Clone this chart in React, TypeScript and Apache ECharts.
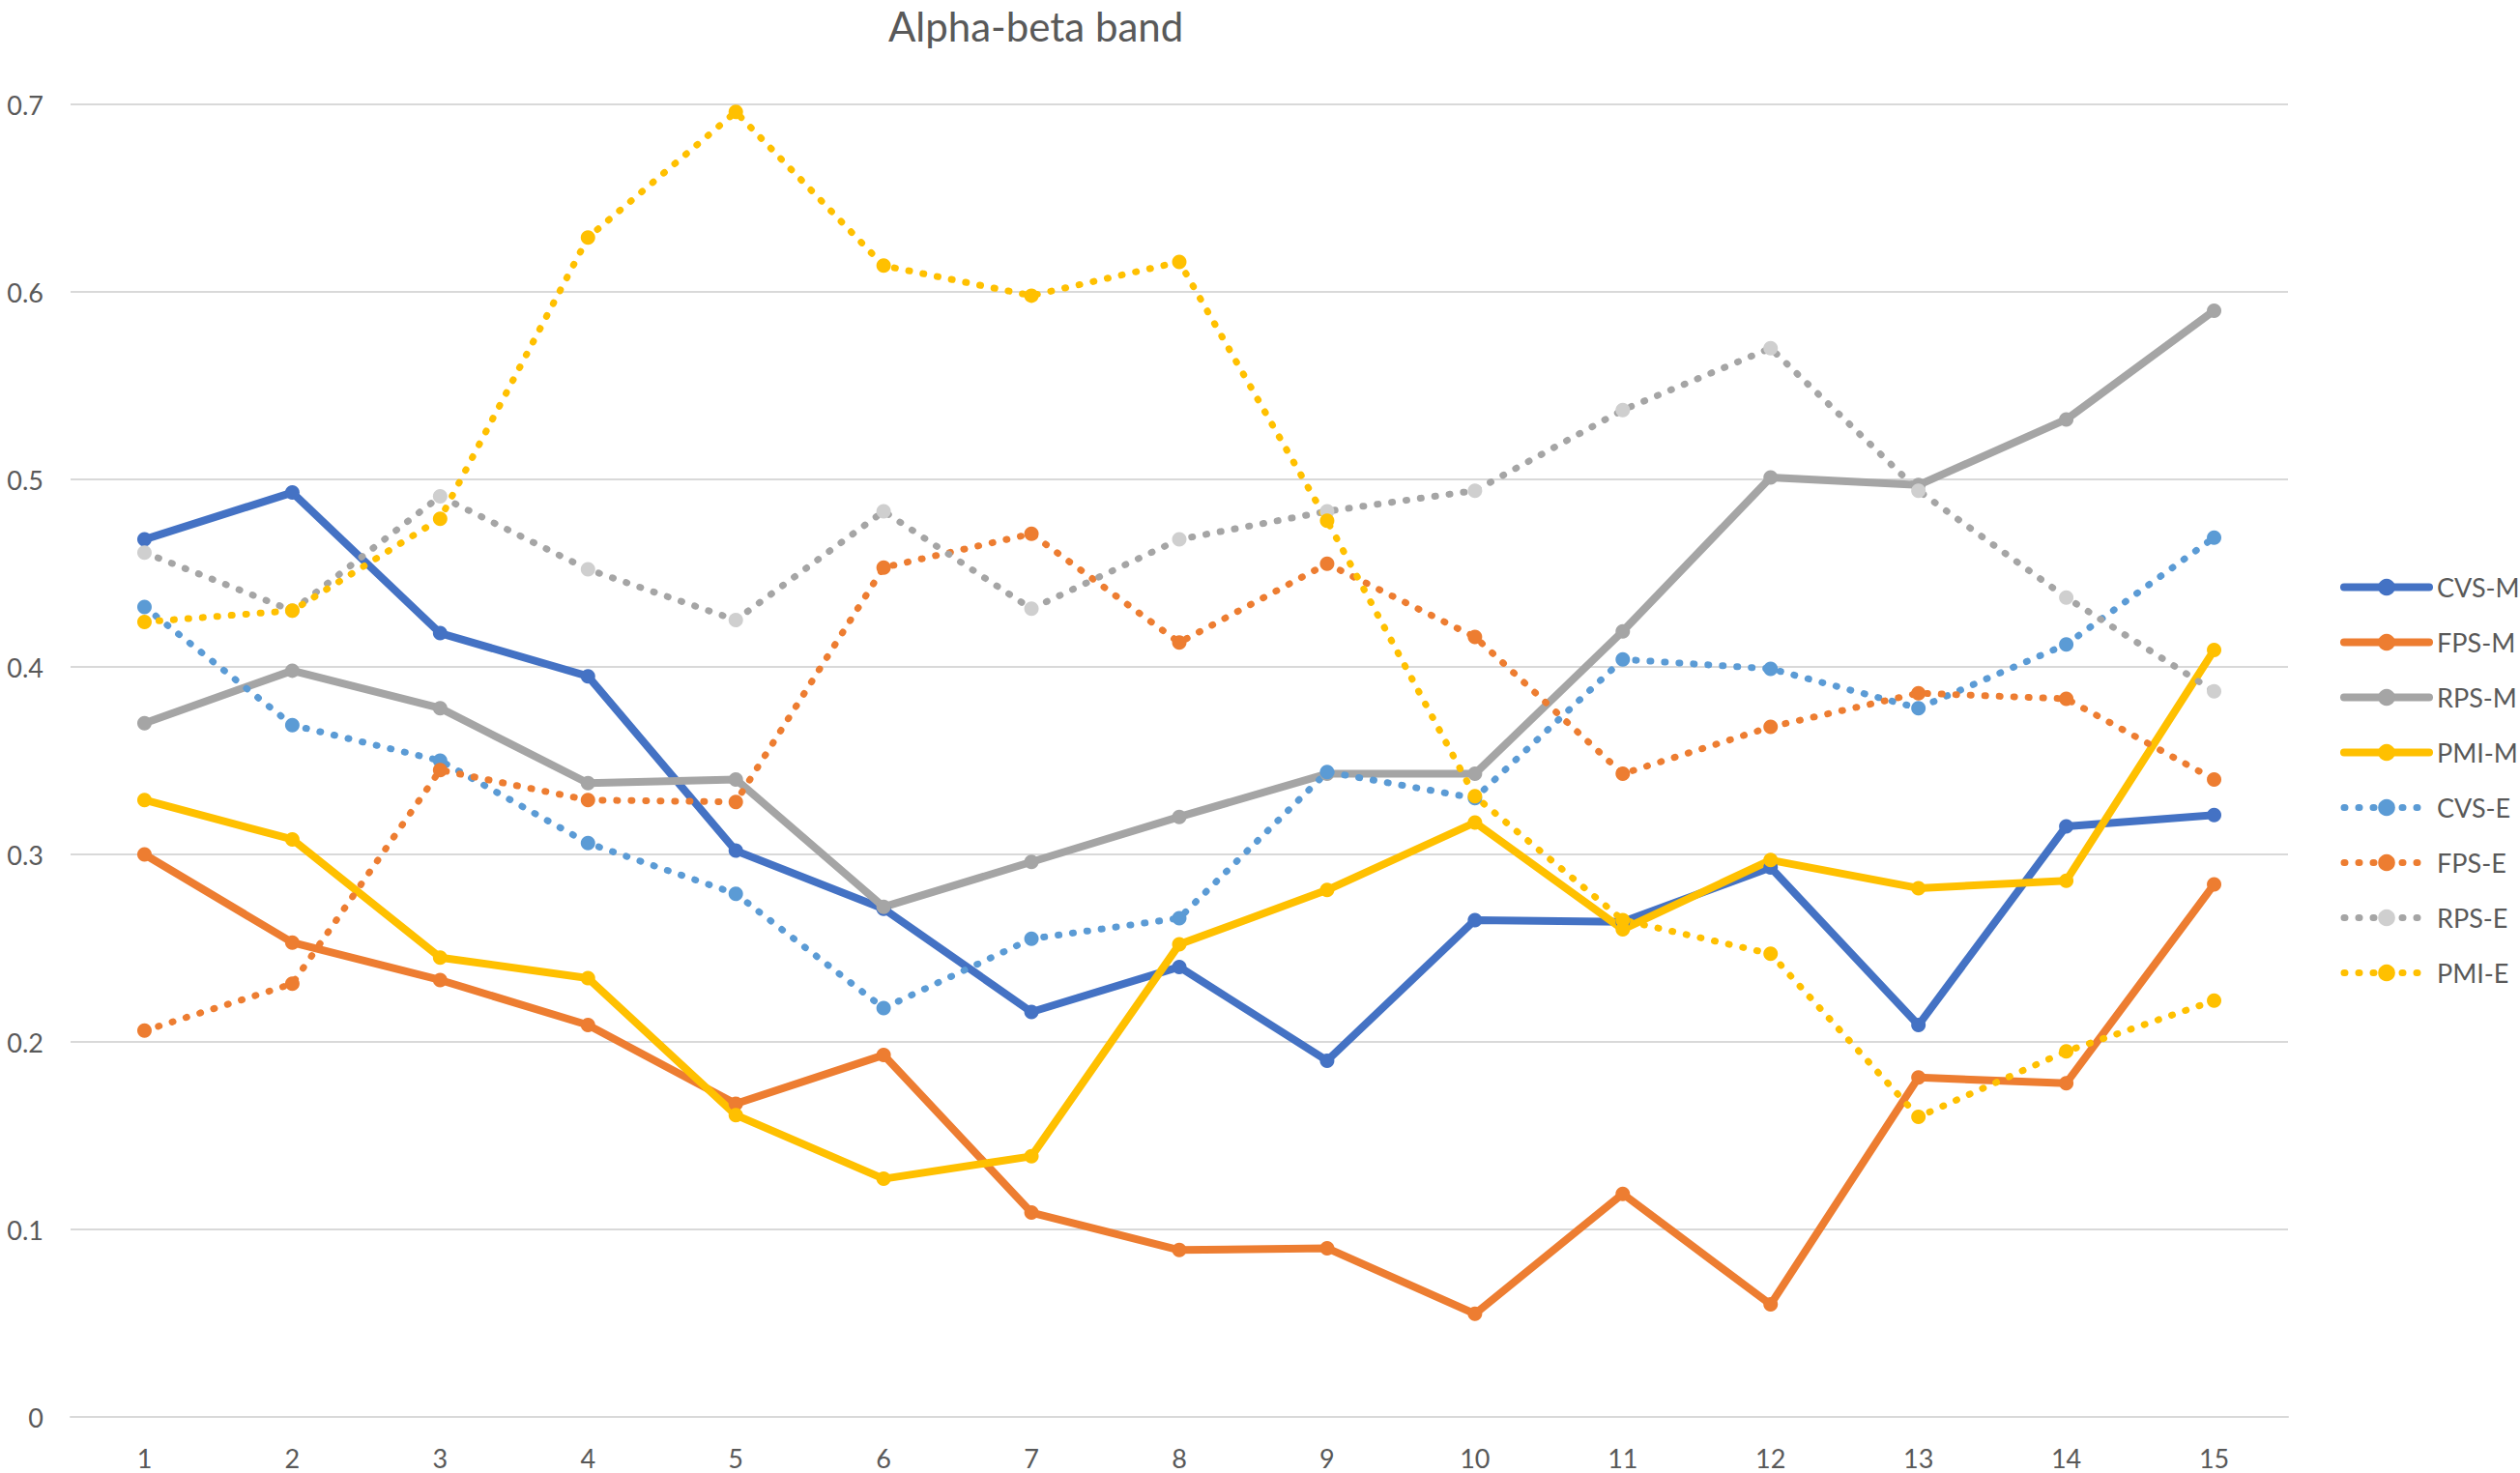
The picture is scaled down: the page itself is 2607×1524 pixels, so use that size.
import React, { useEffect, useRef } from "react";
import * as echarts from "echarts";

const categories = ["1", "2", "3", "4", "5", "6", "7", "8", "9", "10", "11", "12", "13", "14", "15"];

const cvsM = [0.468, 0.493, 0.418, 0.395, 0.302, 0.271, 0.216, 0.240, 0.190, 0.265, 0.264, 0.293, 0.209, 0.315, 0.321];
const fpsM = [0.300, 0.253, 0.233, 0.209, 0.167, 0.193, 0.109, 0.089, 0.090, 0.055, 0.119, 0.060, 0.181, 0.178, 0.284];
const rpsM = [0.370, 0.398, 0.378, 0.338, 0.340, 0.272, 0.296, 0.320, 0.343, 0.343, 0.419, 0.501, 0.497, 0.532, 0.590];
const pmiM = [0.329, 0.308, 0.245, 0.234, 0.161, 0.127, 0.139, 0.252, 0.281, 0.317, 0.260, 0.297, 0.282, 0.286, 0.409];
const cvsE = [0.432, 0.369, 0.350, 0.306, 0.279, 0.218, 0.255, 0.266, 0.344, 0.330, 0.404, 0.399, 0.378, 0.412, 0.469];
const fpsE = [0.206, 0.231, 0.345, 0.329, 0.328, 0.453, 0.471, 0.413, 0.455, 0.416, 0.343, 0.368, 0.386, 0.383, 0.340];
const rpsE = [0.461, 0.430, 0.491, 0.452, 0.425, 0.483, 0.431, 0.468, 0.483, 0.494, 0.537, 0.570, 0.494, 0.437, 0.387];
const pmiE = [0.424, 0.430, 0.479, 0.629, 0.696, 0.614, 0.598, 0.616, 0.478, 0.331, 0.265, 0.247, 0.160, 0.195, 0.222];

const yTicks = ["0", "0.1", "0.2", "0.3", "0.4", "0.5", "0.6", "0.7"];

const FONT = "Lato, 'Open Sans', sans-serif";
const TEXT = "#595959";

function solid(name: string, data: number[], color: string) {
  return {
    name,
    type: "line",
    data,
    symbol: "circle",
    symbolSize: 15,
    itemStyle: { color },
    lineStyle: { color, width: 8, cap: "round", join: "round" },
  };
}

function dotted(name: string, data: number[], color: string, marker: string) {
  return {
    name,
    type: "line",
    data,
    symbol: "circle",
    symbolSize: 15,
    itemStyle: { color: marker },
    lineStyle: { color, width: 7, type: [1, 14], cap: "round", join: "round" },
  };
}

export default function App() {
  const ref = useRef<HTMLDivElement>(null);
  useEffect(() => {
    const chart = echarts.init(ref.current!, null, { renderer: "svg" });
    chart.setOption({
      animation: false,
      backgroundColor: "#ffffff",
      title: {
        text: "Alpha-beta band",
        left: 919,
        top: 4,
        padding: 0,
        textStyle: { fontFamily: FONT, fontSize: 42, fontWeight: "normal", color: TEXT, lineHeight: 46 },
      },
      legend: {
        orient: "vertical",
        left: 2421,
        top: 594,
        padding: 0,
        itemWidth: 88,
        itemHeight: 22,
        itemGap: 30,
        lineStyle: { width: "inherit" },
        textStyle: { fontFamily: FONT, fontSize: 27, color: TEXT, padding: [0, 0, 0, 3] },
        data: ["CVS-M", "FPS-M", "RPS-M", "PMI-M", "CVS-E", "FPS-E", "RPS-E", "PMI-E"],
      },
      grid: { left: 73, right: 240, top: 108, bottom: 58, containLabel: false },
      xAxis: {
        type: "category",
        data: categories,
        boundaryGap: true,
        axisLine: { show: true, lineStyle: { color: "#D9D9D9", width: 2 } },
        axisTick: { show: false },
        axisLabel: { fontFamily: FONT, fontSize: 27, color: TEXT, margin: 29 },
        splitLine: { show: false },
      },
      yAxis: {
        type: "value",
        min: 0,
        max: 0.7,
        interval: 0.1,
        axisLine: { show: false },
        axisTick: { show: false },
        axisLabel: {
          fontFamily: FONT,
          fontSize: 27,
          color: TEXT,
          margin: 28,
          formatter: (v: number) => yTicks[Math.round(v * 10)] ?? String(v),
        },
        splitLine: { show: true, lineStyle: { color: "#D9D9D9", width: 2 } },
      },
      series: [
        solid("CVS-M", cvsM, "#4472C4"),
        solid("FPS-M", fpsM, "#ED7D31"),
        solid("RPS-M", rpsM, "#A5A5A5"),
        solid("PMI-M", pmiM, "#FFC000"),
        dotted("CVS-E", cvsE, "#5B9BD5", "#5B9BD5"),
        dotted("FPS-E", fpsE, "#ED7D31", "#ED7D31"),
        dotted("RPS-E", rpsE, "#A5A5A5", "#CFCFCF"),
        dotted("PMI-E", pmiE, "#FFC000", "#FFC000"),
      ],
    });
    return () => chart.dispose();
  }, []);
  return (
    <div
      ref={ref}
      style={{ position: "fixed", left: 0, top: 0, width: "2607px", height: "1524px", background: "#ffffff" }}
    />
  );
}
